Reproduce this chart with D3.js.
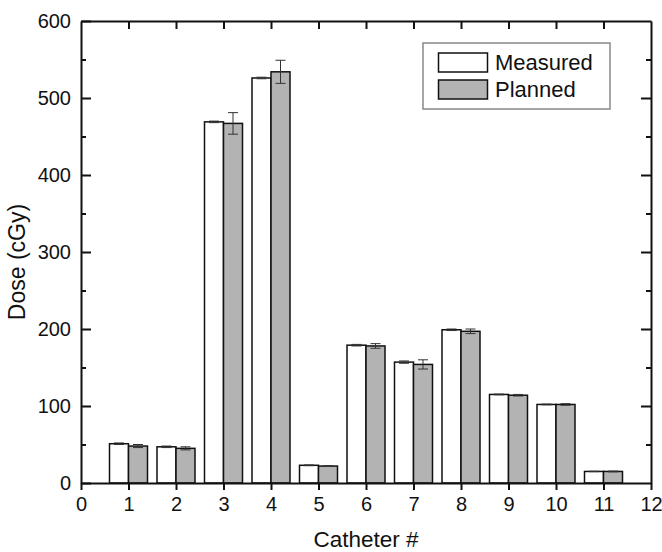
<!DOCTYPE html>
<html>
<head>
<meta charset="utf-8">
<script src="https://cdn.jsdelivr.net/npm/d3@7"></script>
<style>
  html, body { margin: 0; padding: 0; background: #fff; }
  svg { display: block; font-family: "Liberation Sans", Arial, sans-serif; }
</style>
</head>
<body>
<svg id="chart" width="662" height="552"></svg>
<script>
const categories = [1, 2, 3, 4, 5, 6, 7, 8, 9, 10, 11];
const measured    = [51, 47, 469, 526, 23, 179, 157, 199, 115, 102, 15];
const measuredErr = [1, 1, 1, 1, 0.5, 1, 1.5, 1, 0.5, 0.5, 0.3];
const planned     = [48, 45, 467, 534, 22, 178, 154, 197, 114, 102, 15];
const plannedErr  = [2, 2, 14, 15, 0.5, 3, 6, 3, 1, 1, 0.5];
const xTicks = [0, 1, 2, 3, 4, 5, 6, 7, 8, 9, 10, 11, 12];
const yTicks = [0, 100, 200, 300, 400, 500, 600];
const yMinorTicks = [50, 150, 250, 350, 450, 550];
const seriesNames = ["Measured", "Planned"];
const seriesFill = ["#ffffff", "#b3b3b3"];

const svg = d3.select("#chart");
const L = 81, R = 651, T = 21, B = 483;
const x = d3.scaleLinear().domain([0, 12]).range([L, R]);
const y = d3.scaleLinear().domain([0, 600]).range([B, T]);
const barW = 0.4;

// bars
const series = [
  { vals: measured, errs: measuredErr, off: -barW, fill: seriesFill[0] },
  { vals: planned,  errs: plannedErr, off: 0, fill: seriesFill[1] }
];
series.forEach(s => {
  const g = svg.append("g");
  g.selectAll("rect").data(categories).join("rect")
    .attr("x", (c) => x(c + s.off))
    .attr("width", (c) => x(c + s.off + barW) - x(c + s.off))
    .attr("y", (c, i) => y(s.vals[i]))
    .attr("height", (c, i) => y(0) - y(s.vals[i]))
    .attr("fill", s.fill)
    .attr("stroke", "#111")
    .attr("stroke-width", 1.5);
  // error bars
  const eg = svg.append("g").attr("stroke", "#333").attr("stroke-width", 1);
  categories.forEach((c, i) => {
    const cx = x(c + s.off + barW / 2);
    const top = y(s.vals[i] + s.errs[i]);
    const bot = y(s.vals[i] - s.errs[i]);
    eg.append("line").attr("x1", cx).attr("x2", cx).attr("y1", top).attr("y2", bot);
    eg.append("line").attr("x1", cx - 5).attr("x2", cx + 5).attr("y1", top).attr("y2", top);
    eg.append("line").attr("x1", cx - 5).attr("x2", cx + 5).attr("y1", bot).attr("y2", bot);
  });
});

function styleAxis(g) {
  g.select(".domain").attr("stroke", "#111").attr("stroke-width", 2);
  g.selectAll(".tick line").attr("stroke", "#111").attr("stroke-width", 2);
  g.selectAll("text").attr("fill", "#111").attr("font-size", 20)
    .attr("font-family", "'Liberation Sans', Arial, sans-serif");
}

// bottom axis
svg.append("g").attr("transform", `translate(0,${B})`)
  .call(d3.axisBottom(x).tickValues(xTicks).tickFormat(d3.format("d")).tickSize(7).tickSizeOuter(0).tickPadding(7))
  .call(styleAxis);
// top axis
svg.append("g").attr("transform", `translate(0,${T})`)
  .call(d3.axisTop(x).tickValues(xTicks.slice(1, -1)).tickFormat("").tickSize(-8).tickSizeOuter(0))
  .call(styleAxis);
// left axis
svg.append("g").attr("transform", `translate(${L},0)`)
  .call(d3.axisLeft(y).tickValues(yTicks).tickFormat(d3.format("d")).tickSize(-10).tickSizeOuter(0).tickPadding(10))
  .call(styleAxis);
svg.append("g").attr("transform", `translate(${L},0)`)
  .call(d3.axisLeft(y).tickValues(yMinorTicks).tickFormat("").tickSize(-5).tickSizeOuter(0))
  .call(styleAxis).select(".domain").remove();
// right axis
svg.append("g").attr("transform", `translate(${R},0)`)
  .call(d3.axisRight(y).tickValues(yTicks.slice(1, -1)).tickFormat("").tickSize(-10).tickSizeOuter(0))
  .call(styleAxis);
svg.append("g").attr("transform", `translate(${R},0)`)
  .call(d3.axisRight(y).tickValues(yMinorTicks).tickFormat("").tickSize(-5).tickSizeOuter(0))
  .call(styleAxis).select(".domain").remove();

// axis titles
svg.append("text").attr("x", (L + R) / 2).attr("y", 547)
  .attr("text-anchor", "middle").attr("font-size", 22.5).attr("fill", "#111")
  .text("Catheter #");
svg.append("text").attr("transform", `translate(25,262) rotate(-90)`)
  .attr("text-anchor", "middle").attr("font-size", 23).attr("fill", "#111")
  .text("Dose (cGy)");

// legend
const lg = svg.append("g");
lg.append("rect").attr("x", 423).attr("y", 43).attr("width", 187).attr("height", 66)
  .attr("fill", "#fff").attr("stroke", "#888").attr("stroke-width", 1.5);
seriesNames.forEach((n, i) => {
  lg.append("rect").attr("x", 438.5).attr("y", 53 + i * 27).attr("width", 49).attr("height", 19)
    .attr("fill", seriesFill[i]).attr("stroke", "#111").attr("stroke-width", 1.5);
  lg.append("text").attr("x", 495).attr("y", 70 + i * 27)
    .attr("font-size", 22).attr("fill", "#111").text(n);
});
</script>
</body>
</html>
